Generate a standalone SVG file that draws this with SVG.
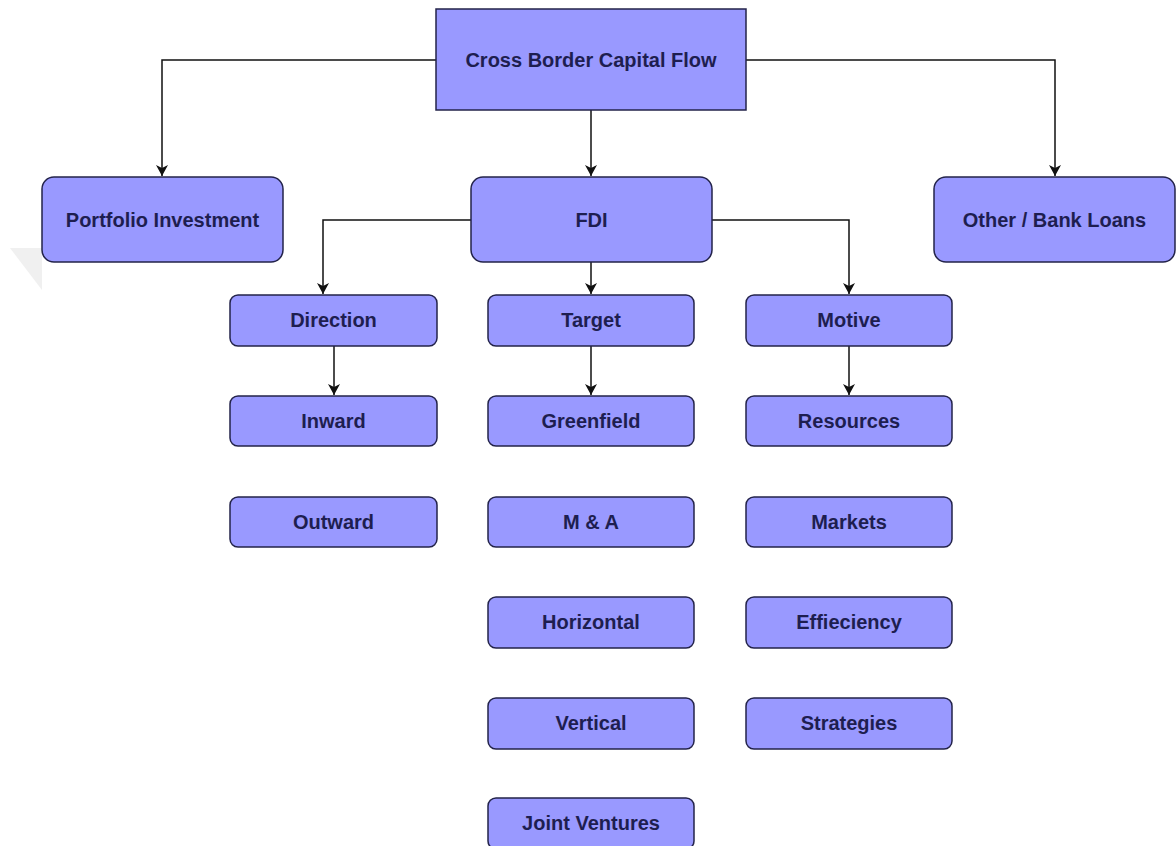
<svg xmlns="http://www.w3.org/2000/svg" width="1176" height="846" viewBox="0 0 1176 846">
<style>
.n{fill:#9999ff;stroke:#23234a;stroke-width:1.5}
.t{font-family:"Liberation Sans",Arial,sans-serif;font-size:20px;font-weight:bold;fill:#1e1e50;text-anchor:middle}
.c{fill:none;stroke:#111;stroke-width:1.5}
</style>
<defs>
<marker id="ah" markerWidth="12" markerHeight="12" viewBox="0 0 12 12" refX="11" refY="6" orient="auto" markerUnits="userSpaceOnUse">
<path d="M0,0 L11,6 L0,12 L3,6 Z" fill="#111"/>
</marker>
</defs>
<rect width="1176" height="846" fill="#fff"/>
<polygon points="10,248 42,248 42,290" fill="#f0f0f0"/>
<g id="connectors">
<path class="c" d="M436,60 H162 V176" marker-end="url(#ah)"/>
<path class="c" d="M746,60 H1055 V176" marker-end="url(#ah)"/>
<path class="c" d="M591,110 V176" marker-end="url(#ah)"/>
<path class="c" d="M471,220 H323 V294" marker-end="url(#ah)"/>
<path class="c" d="M712,220 H849 V294" marker-end="url(#ah)"/>
<path class="c" d="M591,262 V294" marker-end="url(#ah)"/>
<path class="c" d="M334,346 V395" marker-end="url(#ah)"/>
<path class="c" d="M591,346 V395" marker-end="url(#ah)"/>
<path class="c" d="M849,346 V395" marker-end="url(#ah)"/>
</g>
<g id="root"><rect class="n" x="436" y="9" width="310" height="101"/><text class="t" x="591" y="67">Cross Border Capital Flow</text></g>
<g id="portfolio"><rect class="n" x="42" y="177" width="241" height="85" rx="12"/><text class="t" x="162.5" y="227">Portfolio Investment</text></g>
<g id="fdi"><rect class="n" x="471" y="177" width="241" height="85" rx="12"/><text class="t" x="591.5" y="227">FDI</text></g>
<g id="other"><rect class="n" x="934" y="177" width="241" height="85" rx="12"/><text class="t" x="1054.5" y="227">Other / Bank Loans</text></g>
<g id="direction"><rect class="n" x="230" y="295" width="207" height="51" rx="8"/><text class="t" x="333.5" y="327">Direction</text></g>
<g id="inward"><rect class="n" x="230" y="396" width="207" height="50" rx="8"/><text class="t" x="333.5" y="428">Inward</text></g>
<g id="outward"><rect class="n" x="230" y="497" width="207" height="50" rx="8"/><text class="t" x="333.5" y="529">Outward</text></g>
<g id="target"><rect class="n" x="488" y="295" width="206" height="51" rx="8"/><text class="t" x="591" y="327">Target</text></g>
<g id="greenfield"><rect class="n" x="488" y="396" width="206" height="50" rx="8"/><text class="t" x="591" y="428">Greenfield</text></g>
<g id="ma"><rect class="n" x="488" y="497" width="206" height="50" rx="8"/><text class="t" x="591" y="529">M &amp; A</text></g>
<g id="horizontal"><rect class="n" x="488" y="597" width="206" height="51" rx="8"/><text class="t" x="591" y="629">Horizontal</text></g>
<g id="vertical"><rect class="n" x="488" y="698" width="206" height="51" rx="8"/><text class="t" x="591" y="730">Vertical</text></g>
<g id="joint"><rect class="n" x="488" y="798" width="206" height="51" rx="8"/><text class="t" x="591" y="830">Joint Ventures</text></g>
<g id="motive"><rect class="n" x="746" y="295" width="206" height="51" rx="8"/><text class="t" x="849" y="327">Motive</text></g>
<g id="resources"><rect class="n" x="746" y="396" width="206" height="50" rx="8"/><text class="t" x="849" y="428">Resources</text></g>
<g id="markets"><rect class="n" x="746" y="497" width="206" height="50" rx="8"/><text class="t" x="849" y="529">Markets</text></g>
<g id="efficiency"><rect class="n" x="746" y="597" width="206" height="51" rx="8"/><text class="t" x="849" y="629">Effieciency</text></g>
<g id="strategies"><rect class="n" x="746" y="698" width="206" height="51" rx="8"/><text class="t" x="849" y="730">Strategies</text></g>
</svg>
